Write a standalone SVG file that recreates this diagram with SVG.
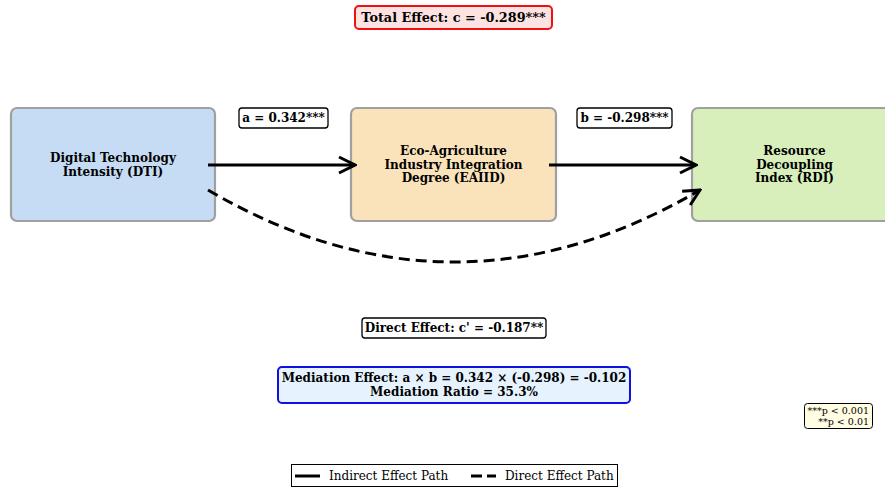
<svg xmlns="http://www.w3.org/2000/svg" width="885" height="488" viewBox="0 0 885 488">
<defs>
<style>
text{font-family:"DejaVu Serif","Liberation Serif",serif;fill:#000}
.b{font-weight:bold}
.node{stroke:#a0a0a0;stroke-width:2.2}
.lbl{fill:#fff;stroke:#000;stroke-width:1.3}
.conn{fill:none;stroke:#000;stroke-width:3}
</style>
<marker id="ah2" viewBox="0 0 20 20" refX="18" refY="10" markerWidth="20" markerHeight="20" markerUnits="userSpaceOnUse" orient="auto">
<path d="M2,2 L18,10 L2,18" fill="none" stroke="#000" stroke-width="3"/>
</marker>
</defs>
<rect width="885" height="488" fill="#fff"/>

<g id="total-effect">
<rect x="355" y="6" width="197" height="23" rx="4" fill="#fde2e2" stroke="#f01010" stroke-width="2"/>
<text x="453.5" y="22" text-anchor="middle" font-size="12.8" class="b">Total Effect: c = -0.289***</text>
</g>

<g id="node-dti">
<rect x="11" y="108" width="204" height="113" rx="6" fill="#c6dcf4" class="node"/>
<text x="113" y="162" text-anchor="middle" font-size="12" class="b">Digital Technology</text>
<text x="113" y="176" text-anchor="middle" font-size="12" class="b">Intensity (DTI)</text>
</g>

<g id="node-eaiid">
<rect x="351" y="108" width="205" height="113" rx="6" fill="#fae3bb" class="node"/>
<text x="453.5" y="155" text-anchor="middle" font-size="12" class="b">Eco-Agriculture</text>
<text x="453.5" y="168.5" text-anchor="middle" font-size="12" class="b">Industry Integration</text>
<text x="453.5" y="182" text-anchor="middle" font-size="12" class="b">Degree (EAIID)</text>
</g>

<g id="node-rdi">
<rect x="692" y="108" width="205" height="113" rx="6" fill="#d8efbc" class="node"/>
<text x="794.5" y="155" text-anchor="middle" font-size="12" class="b">Resource</text>
<text x="794.5" y="168.5" text-anchor="middle" font-size="12" class="b">Decoupling</text>
<text x="794.5" y="182" text-anchor="middle" font-size="12" class="b">Index (RDI)</text>
</g>

<g id="connectors">
<line x1="208" y1="165" x2="355" y2="165" class="conn" marker-end="url(#ah2)"/>
<line x1="549" y1="165" x2="696" y2="165" class="conn" marker-end="url(#ah2)"/>
<path d="M208,190 Q454,334 700,190" class="conn" stroke-dasharray="11,6" marker-end="url(#ah2)"/>
</g>

<g id="label-a">
<rect x="239" y="108" width="89" height="20" rx="3" class="lbl"/>
<text x="283.5" y="122" text-anchor="middle" font-size="12" class="b">a = 0.342***</text>
</g>
<g id="label-b">
<rect x="577" y="108" width="95" height="20" rx="3" class="lbl"/>
<text x="624.5" y="122" text-anchor="middle" font-size="12" class="b">b = -0.298***</text>
</g>

<g id="direct-effect">
<rect x="362" y="318" width="184" height="20" rx="3" class="lbl"/>
<text x="454" y="332" text-anchor="middle" font-size="12" class="b">Direct Effect: c' = -0.187**</text>
</g>

<g id="mediation">
<rect x="278" y="367" width="352" height="36" rx="4" fill="#e6f3ff" stroke="#1010e0" stroke-width="2"/>
<text x="454" y="382" text-anchor="middle" font-size="12" class="b">Mediation Effect: a × b = 0.342 × (-0.298) = -0.102</text>
<text x="454" y="396" text-anchor="middle" font-size="12" class="b">Mediation Ratio = 35.3%</text>
</g>

<g id="pvalues">
<rect x="804.5" y="403.5" width="68" height="25" rx="3" fill="#fffde3" stroke="#000" stroke-width="1"/>
<text x="869" y="414" text-anchor="end" font-size="9.5">***p &lt; 0.001</text>
<text x="869" y="424.5" text-anchor="end" font-size="9.5">**p &lt; 0.01</text>
</g>

<g id="legend">
<rect x="291.5" y="464.5" width="326" height="22" fill="#fff" stroke="#000" stroke-width="1"/>
<line x1="295" y1="476" x2="320" y2="476" stroke="#000" stroke-width="3"/>
<text x="329" y="480" font-size="12">Indirect Effect Path</text>
<line x1="471" y1="476" x2="496" y2="476" stroke="#000" stroke-width="3" stroke-dasharray="11,5"/>
<text x="505" y="480" font-size="12">Direct Effect Path</text>
</g>
</svg>
